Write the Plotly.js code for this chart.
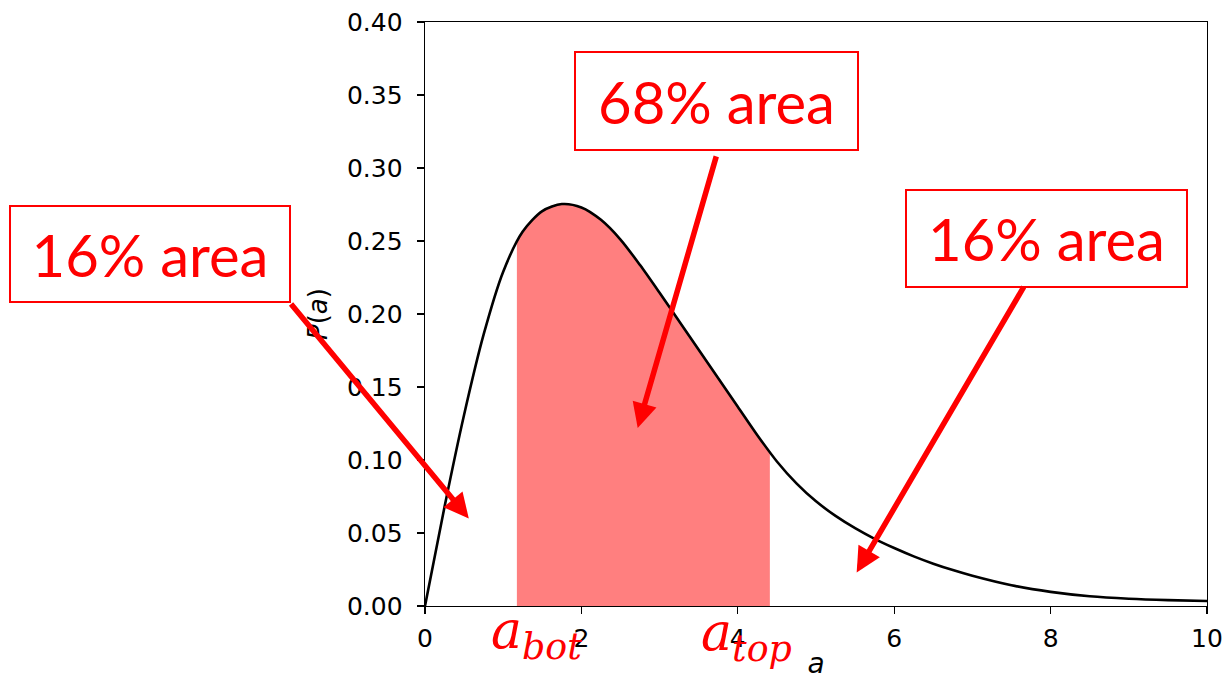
<!DOCTYPE html>
<html>
<head>
<meta charset="utf-8">
<script src="https://cdn.plot.ly/plotly-3.0.1.min.js"></script>
<style>
  html, body { margin: 0; padding: 0; background: #fff; }
  #chart { width: 1224px; height: 680px; }
</style>
</head>
<body>
<div id="chart"></div>
<script>
// Values
const aValues = [0, 0.25, 0.5, 0.75, 1, 1.25, 1.5, 1.75, 2, 2.25, 2.5, 2.75, 3, 3.25, 3.5, 3.75, 4, 4.25, 4.5, 4.75, 5, 5.25, 5.5, 5.75, 6, 6.25, 6.5, 6.75, 7, 7.5, 8, 8.5, 9, 9.5, 10];
const pValues = [0, 0.068, 0.131, 0.186, 0.229, 0.2565, 0.2705, 0.2753, 0.2730, 0.2645, 0.2510, 0.2335, 0.2145, 0.1950, 0.1755, 0.1560, 0.1365, 0.1170, 0.0990, 0.0840, 0.0717, 0.0617, 0.0533, 0.0460, 0.0397, 0.0340, 0.0290, 0.0246, 0.0207, 0.0142, 0.0097, 0.0067, 0.0050, 0.0040, 0.0034];
const shadeBounds = [1.175, 4.41];       // a_bot, a_top
const shadeBoundP = [0.249, 0.1055];     // curve height at the bounds
const xTicks = [0, 2, 4, 6, 8, 10];
const yTicks = [0, 0.05, 0.10, 0.15, 0.20, 0.25, 0.30, 0.35, 0.40];
const boxLabels = ['16% area', '68% area', '16% area'];

// build the shaded region from the curve
const shadeA = [shadeBounds[0]];
const shadeP = [shadeBoundP[0]];
aValues.forEach((a, i) => {
  if (a > shadeBounds[0] && a < shadeBounds[1]) { shadeA.push(a); shadeP.push(pValues[i]); }
});
shadeA.push(shadeBounds[1]);
shadeP.push(shadeBoundP[1]);

const L = 425, R = 1207, T = 22, B = 606;
const px = v => (v - L) / (R - L);
const py = v => (B - v) / (B - T);

const traces = [
  {
    x: shadeA, y: shadeP, type: 'scatter', mode: 'lines',
    fill: 'tozeroy', fillcolor: 'rgba(255,0,0,0.5)',
    line: { color: 'rgba(255,0,0,0.25)', width: 1.5, shape: 'spline', smoothing: 0.8 },
    hoverinfo: 'skip', showlegend: false
  },
  {
    x: aValues, y: pValues, type: 'scatter', mode: 'lines',
    line: { color: '#000000', width: 2.6, shape: 'spline', smoothing: 0.8 },
    showlegend: false
  }
];

const tickFont = { family: 'DejaVu Sans', size: 25, color: '#000000' };
const boxFont = { family: 'Lato', size: 58, color: '#ff0000' };
const mathFont = { family: 'DejaVu Serif', size: 52, color: '#ff0000' };

function box(text, cx, cy, w, h) {
  return {
    xref: 'paper', yref: 'paper', x: px(cx), y: py(cy),
    xanchor: 'center', yanchor: 'middle', text: text, showarrow: false,
    font: boxFont, bordercolor: '#ff0000', borderwidth: 2, borderpad: 0,
    bgcolor: '#ffffff', width: w, height: h, align: 'center', valign: 'middle'
  };
}
function arrow(xTip, yTip, ax, ay) {
  return {
    xref: 'x', yref: 'y', x: xTip, y: yTip, ax: ax, ay: ay,
    axref: 'pixel', ayref: 'pixel', text: '', showarrow: true,
    arrowhead: 2, arrowsize: 0.9, arrowwidth: 5.5, arrowcolor: '#ff0000'
  };
}

const layout = {
  width: 1224, height: 680,
  margin: { l: L, r: 1224 - R, t: T, b: 680 - B },
  paper_bgcolor: '#ffffff', plot_bgcolor: '#ffffff',
  xaxis: {
    range: [0, 10], tickvals: xTicks, ticktext: xTicks.map(String),
    ticks: 'outside', ticklen: 7, tickwidth: 1.4, tickcolor: '#000',
    showline: true, linecolor: '#000', linewidth: 1.4, mirror: true,
    showgrid: false, zeroline: false, tickfont: tickFont, ticklabelstandoff: 3,
    title: { text: '<i>a</i>', font: { family: 'DejaVu Sans', size: 28, color: '#000' }, standoff: 40 }
  },
  yaxis: {
    range: [0, 0.4], tickvals: yTicks, ticktext: yTicks.map(v => v.toFixed(2)),
    ticks: 'outside', ticklen: 7, tickwidth: 1.4, tickcolor: '#000',
    showline: true, linecolor: '#000', linewidth: 1.4, mirror: true,
    showgrid: false, zeroline: false, tickfont: tickFont, ticklabelstandoff: 9,
    title: { text: '<i>P</i>(<i>a</i>)', font: { family: 'DejaVu Sans', size: 26, color: '#000' }, standoff: 12 }
  },
  annotations: [
    box(boxLabels[0], 150, 254, 278, 94),
    box(boxLabels[1], 716.5, 101, 281, 96),
    box(boxLabels[2], 1046.5, 238.5, 279, 95),
    arrow(0.56, 0.060, 290 - 469, 302 - 518),
    arrow(2.72, 0.122, 717 - 638, 155 - 428),
    arrow(5.52, 0.023, 1025 - 857, 285 - 572),
    {
      xref: 'paper', yref: 'paper', x: px(536), y: py(634), xanchor: 'center', yanchor: 'middle',
      text: '<i>a</i><sub><i>bot</i></sub>', showarrow: false, font: mathFont
    },
    {
      xref: 'paper', yref: 'paper', x: px(746), y: py(636), xanchor: 'center', yanchor: 'middle',
      text: '<i>a</i><sub><i>top</i></sub>', showarrow: false, font: mathFont
    }
  ]
};

Plotly.newPlot('chart', traces, layout, { displayModeBar: false, staticPlot: true });
</script>
</body>
</html>
